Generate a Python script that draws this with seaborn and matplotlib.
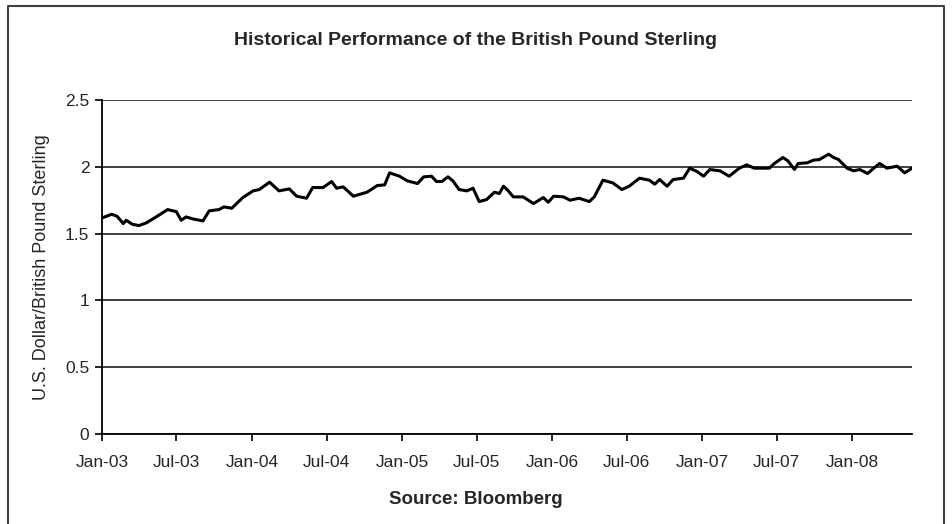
import pandas as pd
import matplotlib.pyplot as plt
import matplotlib.dates as mdates
import seaborn as sns
from matplotlib.lines import Line2D

# ---------------------------
# Data
# ---------------------------

dates = [
    "2003-01-04", "2003-01-25", "2003-02-07", "2003-02-22", "2003-03-01", "2003-03-16",
    "2003-04-01", "2003-04-19", "2003-05-13", "2003-06-10", "2003-07-01", "2003-07-13",
    "2003-07-25", "2003-08-10", "2003-09-04", "2003-09-19", "2003-10-13", "2003-10-25",
    "2003-11-13", "2003-12-10", "2004-01-04", "2004-01-19", "2004-02-13", "2004-03-07",
    "2004-04-01", "2004-04-19", "2004-05-13", "2004-05-28", "2004-06-22", "2004-07-13",
    "2004-07-25", "2004-08-10", "2004-09-04", "2004-10-07", "2004-11-01", "2004-11-19",
    "2004-12-01", "2004-12-25", "2005-01-13", "2005-02-07", "2005-02-22", "2005-03-13",
    "2005-03-25", "2005-04-07", "2005-04-22", "2005-05-04", "2005-05-19", "2005-06-07",
    "2005-06-22", "2005-07-07", "2005-07-25", "2005-08-13", "2005-08-25", "2005-09-04",
    "2005-09-13", "2005-09-28", "2005-10-22", "2005-11-16", "2005-12-10", "2005-12-22",
    "2006-01-04", "2006-01-28", "2006-02-13", "2006-03-07", "2006-04-01", "2006-04-13",
    "2006-05-04", "2006-05-28", "2006-06-19", "2006-07-07", "2006-08-01", "2006-08-25",
    "2006-09-07", "2006-09-19", "2006-10-07", "2006-10-22", "2006-11-16", "2006-12-01",
    "2006-12-19", "2007-01-04", "2007-01-19", "2007-02-13", "2007-03-07", "2007-04-01",
    "2007-04-19", "2007-05-07", "2007-06-13", "2007-06-25", "2007-07-16", "2007-07-28",
    "2007-08-13", "2007-08-22", "2007-09-13", "2007-09-28", "2007-10-13", "2007-11-04",
    "2007-11-16", "2007-11-28", "2007-12-19", "2008-01-04", "2008-01-19", "2008-02-07",
    "2008-02-22", "2008-03-07", "2008-03-25", "2008-04-19", "2008-05-07", "2008-05-25",
]

usd_per_gbp = [
    1.620, 1.645, 1.630, 1.575, 1.600, 1.570,
    1.560, 1.580, 1.625, 1.680, 1.665, 1.600,
    1.625, 1.610, 1.595, 1.670, 1.680, 1.700,
    1.690, 1.770, 1.820, 1.830, 1.885, 1.820,
    1.835, 1.780, 1.765, 1.845, 1.845, 1.890,
    1.840, 1.850, 1.780, 1.810, 1.860, 1.865,
    1.955, 1.930, 1.895, 1.875, 1.925, 1.930,
    1.890, 1.890, 1.925, 1.895, 1.830, 1.820,
    1.840, 1.740, 1.755, 1.810, 1.800, 1.855,
    1.830, 1.775, 1.775, 1.725, 1.770, 1.735,
    1.780, 1.775, 1.750, 1.765, 1.740, 1.775,
    1.900, 1.880, 1.830, 1.855, 1.915, 1.900,
    1.870, 1.905, 1.855, 1.905, 1.915, 1.990,
    1.965, 1.930, 1.980, 1.970, 1.930, 1.990,
    2.015, 1.990, 1.990, 2.025, 2.070, 2.045,
    1.980, 2.025, 2.030, 2.050, 2.055, 2.095,
    2.070, 2.055, 1.990, 1.970, 1.980, 1.950,
    1.990, 2.025, 1.990, 2.005, 1.955, 1.990,
]

y_ticks = [0, 0.5, 1, 1.5, 2, 2.5]
y_labels = ["0", "0.5", "1", "1.5", "2", "2.5"]

df = pd.DataFrame({"Date": pd.to_datetime(dates), "Rate": usd_per_gbp})

# ---------------------------
# Plot
# ---------------------------

sns.set_style("white")
plt.rcParams["font.family"] = ["Liberation Sans", "DejaVu Sans"]

fig = plt.figure(figsize=(9.52, 5.24), dpi=100)
ax = fig.add_axes([0.107, 0.172, 0.851, 0.637])

sns.lineplot(data=df, x="Date", y="Rate", color="black", linewidth=2.2, ax=ax)

ax.set_ylim(0, 2.5)
ax.set_yticks(y_ticks)
ax.set_yticklabels(y_labels)
ax.set_xlim(pd.Timestamp("2003-01-01"), pd.Timestamp("2008-05-25"))
ax.xaxis.set_major_locator(mdates.MonthLocator(bymonth=[1, 7]))
ax.xaxis.set_major_formatter(mdates.DateFormatter("%b-%y"))

ax.grid(axis="y", color="#303030", linewidth=1.3)
ax.set_axisbelow(True)
for side in ["top", "right"]:
    ax.spines[side].set_visible(False)
for side in ["left", "bottom"]:
    ax.spines[side].set_color("black")
    ax.spines[side].set_linewidth(1.3)

ax.tick_params(axis="both", direction="out", length=5, width=1.2, color="black",
               labelsize=12.5, pad=4, bottom=True, left=True)
ax.tick_params(axis="x", pad=10)

# title and source are centred on the whole chart, not the plot area
centre = (0.5 - 0.107) / 0.851
ax.set_title("Historical Performance of the British Pound Sterling",
             fontsize=14, fontweight="bold", pad=40, x=centre)
ax.set_xlabel("Source: Bloomberg", fontsize=13.5, fontweight="bold", labelpad=15)
ax.xaxis.label.set_x(centre)
ax.set_ylabel("U.S. Dollar/British Pound Sterling", fontsize=13, labelpad=11)

# chart border
x0, x1, ytop = 8 / 952, 944 / 952, 1 - 6 / 524
fig.add_artist(Line2D([x0, x0, x1, x1], [0, ytop, ytop, 0],
                      transform=fig.transFigure, color="#404040", linewidth=1.5))

fig.savefig("out.png", dpi=100, facecolor="white")
